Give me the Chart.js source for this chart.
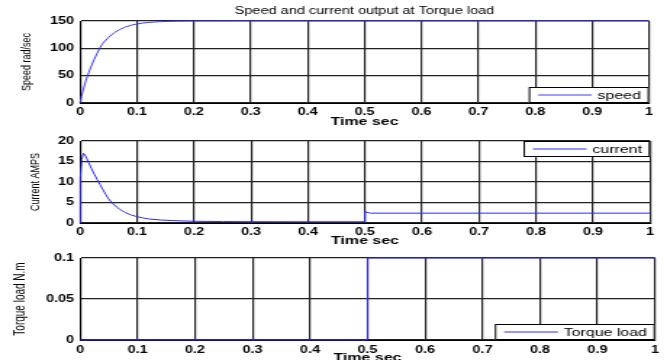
<!DOCTYPE html>
<html>
<head>
<meta charset="utf-8">
<title>Speed and current output at Torque load</title>
<script src="https://cdn.jsdelivr.net/npm/chart.js@4.4.1/dist/chart.umd.min.js"></script>
<style>
  html, body { margin: 0; padding: 0; background: #fff; overflow: hidden; width: 667px; height: 360px; }
  .panel { position: absolute; left: 0; transform-origin: 0 0; }
  canvas { display: block; }
</style>
</head>
<body>
<div class="panel" id="p1"><canvas id="c1"></canvas></div>
<div class="panel" id="p2"><canvas id="c2"></canvas></div>
<div class="panel" id="p3"><canvas id="c3"></canvas></div>
<script>
// ---- data ----
const timeTicks    = [0, 0.1, 0.2, 0.3, 0.4, 0.5, 0.6, 0.7, 0.8, 0.9, 1];
const speedTicks   = [0, 50, 100, 150];
const currentTicks = [0, 5, 10, 15, 20];
const torqueTicks  = [0, 0.05, 0.1];

const speedTime   = [0, 0.0025, 0.005, 0.0075, 0.01, 0.015, 0.02, 0.025, 0.03, 0.035, 0.04, 0.05, 0.06, 0.07, 0.08, 0.09, 0.1, 0.11, 0.12, 0.13, 0.14, 0.15, 0.17, 0.2, 0.3, 0.4, 0.5, 0.6, 0.7, 0.8, 0.9, 1];
const speedValues = [0, 12, 22, 31, 40, 55, 68, 80, 91, 101, 109, 120, 128.5, 134.5, 139, 142.3, 144.6, 146.2, 147.3, 148.1, 148.7, 149.1, 149.6, 149.9, 150, 150, 150, 150, 150, 150, 150, 150];

const currentTime   = [0, 0.0005, 0.003, 0.006, 0.01, 0.015, 0.02, 0.025, 0.03, 0.035, 0.04, 0.045, 0.05, 0.055, 0.06, 0.07, 0.08, 0.09, 0.1, 0.11, 0.12, 0.14, 0.16, 0.18, 0.2, 0.25, 0.3, 0.4, 0.5, 0.5, 0.502, 0.51, 1];
const currentValues = [0, 11, 15.5, 17, 16.3, 14.8, 13.3, 11.9, 10.6, 9.4, 8.2, 7.0, 5.9, 5.1, 4.4, 3.3, 2.5, 1.95, 1.55, 1.25, 1.0, 0.75, 0.6, 0.5, 0.42, 0.35, 0.32, 0.3, 0.3, 2.9, 2.6, 2.4, 2.4];

const torqueTime   = [0, 0.5, 0.5, 1];
const torqueValues = [0, 0, 0.1, 0.1];

// ---- styling / layout ----
const FONT = '"Liberation Sans", Arial, sans-serif';
const W = 460;            // canvas width of each panel
const S = 667 / W;        // panels are stretched horizontally to the page width
Chart.defaults.font.family = FONT;
Chart.defaults.color = '#000';

const toPoints = (xs, ys) => xs.map((x, i) => ({ x: x, y: ys[i] }));

// boxed legend inside the plot area (right edge, top or bottom)
const boxLegend = {
  id: 'boxLegend',
  afterDatasetsDraw(chart, args, opts) {
    const ds = chart.data.datasets[0];
    const a = chart.chartArea, ctx = chart.ctx;
    ctx.save();
    ctx.font = '11px ' + FONT;
    const tw = ctx.measureText(ds.label).width;
    const w = 6.5 + 37 + 4 + tw + 5.5, h = 16;
    const x0 = a.right - w;
    const y0 = opts.where === 'top' ? a.top : a.bottom - h;
    ctx.fillStyle = '#fff';
    ctx.fillRect(x0, y0, w, h);
    ctx.strokeStyle = '#000';
    ctx.lineWidth = 1;
    ctx.strokeRect(x0 + 0.5, y0 + 0.5, w - 1, h - 1);
    ctx.strokeStyle = ds.borderColor;
    ctx.lineWidth = ds.borderWidth;
    ctx.beginPath();
    ctx.moveTo(x0 + 6.5, y0 + h / 2);
    ctx.lineTo(x0 + 43.5, y0 + h / 2);
    ctx.stroke();
    ctx.fillStyle = '#000';
    ctx.textAlign = 'left';
    ctx.textBaseline = 'middle';
    ctx.fillText(ds.label, x0 + 47.5, y0 + h / 2 + 0.5);
    ctx.restore();
  }
};

// figure title centred over the plot area
const panelTitle = {
  id: 'panelTitle',
  afterDraw(chart, args, opts) {
    if (!opts.text) return;
    const a = chart.chartArea, ctx = chart.ctx;
    ctx.save();
    ctx.font = '10px ' + FONT;
    ctx.fillStyle = '#000';
    ctx.textAlign = 'center';
    ctx.textBaseline = 'middle';
    ctx.fillText(opts.text, (a.left + a.right) / 2, opts.y);
    ctx.restore();
  }
};

const GRID = { color: '#222', lineWidth: 1.2, drawTicks: false };

function xScale(xHeight, tickPad, titlePadBottom) {
  return {
    type: 'linear', min: 0, max: 1,
    afterBuildTicks: s => { s.ticks = timeTicks.map(v => ({ value: v })); },
    afterFit: s => { s.height = xHeight; },
    ticks: { color: '#000', font: { family: FONT, size: 10, weight: 'bold' }, padding: tickPad, maxRotation: 0, autoSkip: false, callback: v => String(v) },
    grid: GRID,
    border: { color: '#000', width: 1 },
    title: { display: true, text: 'Time sec', color: '#000', font: { family: FONT, size: 11, weight: 'bold' }, padding: { top: 0, bottom: titlePadBottom } }
  };
}

function yScale(tickVals, label, fontSize, titleCenter) {
  return {
    type: 'linear', min: tickVals[0], max: tickVals[tickVals.length - 1],
    afterBuildTicks: s => { s.ticks = tickVals.map(v => ({ value: v })); },
    afterFit: s => { s.width = 80 / S; },
    ticks: { color: '#000', font: { family: FONT, size: 10, weight: 'bold' }, padding: 4, callback: v => String(v) },
    grid: GRID,
    border: { color: '#000', width: 1 },
    title: { display: true, text: label, color: '#000', font: { family: FONT, size: fontSize }, padding: { top: titleCenter - fontSize * 0.6, bottom: 0 } }
  };
}

function makePanel(p) {
  const holder = document.getElementById(p.holder);
  holder.style.top = p.top + 'px';
  holder.style.transform = 'scaleX(' + S + ')';
  const canvas = document.getElementById(p.canvas);
  canvas.width = W;
  canvas.height = p.height;
  return new Chart(canvas, {
    type: 'line',
    data: {
      datasets: [{
        label: p.label,
        data: toPoints(p.xs, p.ys),
        borderColor: p.color,
        borderWidth: 1,
        pointRadius: 0,
        tension: 0,
        clip: 2
      }]
    },
    options: {
      responsive: false,
      maintainAspectRatio: false,
      devicePixelRatio: 1,
      animation: false,
      events: [],
      layout: { padding: { top: p.padTop, right: W - p.rightPx / S, left: 0, bottom: 0 } },
      scales: {
        x: xScale(p.xHeight, p.tickPad, p.titlePad),
        y: yScale(p.yTicks, p.yLabel, p.yLabelSize, p.yLabelX / S)
      },
      plugins: {
        legend: { display: false },
        tooltip: { enabled: false },
        boxLegend: { where: p.legendAt },
        panelTitle: { text: p.title || '', y: p.titleY || 0 }
      }
    },
    plugins: [boxLegend, panelTitle]
  });
}

makePanel({
  holder: 'p1', canvas: 'c1', top: 0, height: 130, padTop: 21, rightPx: 649,
  xHeight: 27, tickPad: 3, titlePad: 1,
  xs: speedTime, ys: speedValues, label: 'speed', color: '#3a3aff',
  yTicks: speedTicks, yLabel: 'Speed rad/sec', yLabelSize: 9, yLabelX: 26.5,
  legendAt: 'bottom', title: 'Speed and current output at Torque load', titleY: 11.5
});

makePanel({
  holder: 'p2', canvas: 'c2', top: 130, height: 118, padTop: 11, rightPx: 650,
  xHeight: 25, tickPad: 3, titlePad: 0,
  xs: currentTime, ys: currentValues, label: 'current', color: '#2b2bff',
  yTicks: currentTicks, yLabel: 'Current AMPS', yLabelSize: 9, yLabelX: 35,
  legendAt: 'top'
});

makePanel({
  holder: 'p3', canvas: 'c3', top: 248, height: 120, padTop: 9, rightPx: 655,
  xHeight: 28, tickPad: 4, titlePad: 3.4,
  xs: torqueTime, ys: torqueValues, label: 'Torque load', color: '#2b2bff',
  yTicks: torqueTicks, yLabel: 'Torque load N.m', yLabelSize: 10, yLabelX: 20,
  legendAt: 'bottom'
});
</script>
</body>
</html>
